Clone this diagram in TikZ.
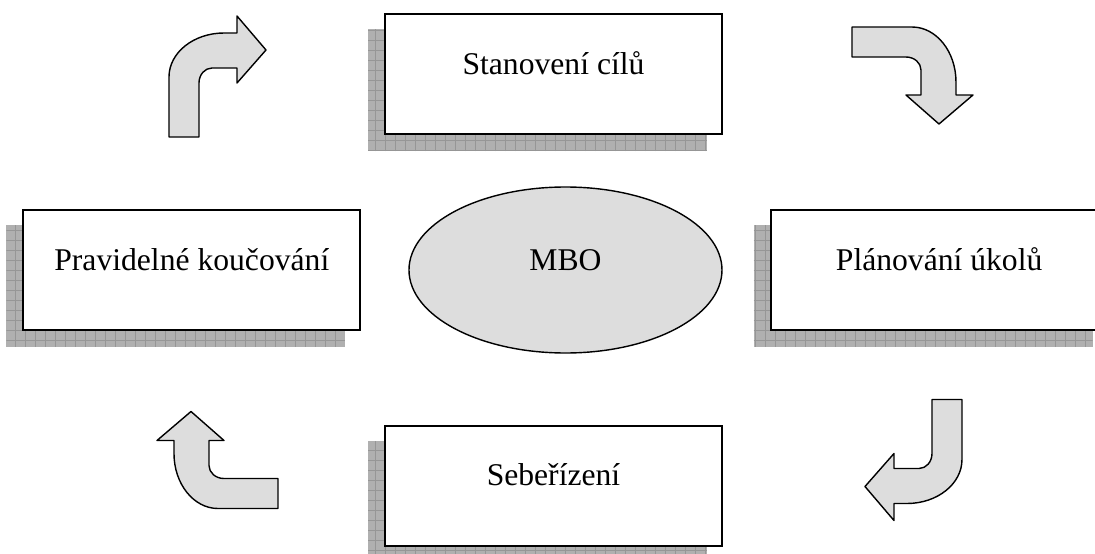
\documentclass[tikz,border=0pt]{standalone}
\usepackage{fontspec}
\setmainfont{Liberation Serif}
\usepackage{tikz}
\usetikzlibrary{positioning,shapes.geometric,backgrounds,calc}
\definecolor{arrowgrey}{HTML}{DDDDDD}
\definecolor{shadowgrey}{HTML}{B0B0B0}
\definecolor{shadowline}{HTML}{969696}
\tikzset{
  stepbox/.style={
    rectangle, draw=black, line width=1.1pt, fill=white,
    minimum width=6.74cm, minimum height=2.4cm,
    text height=0.5cm, text depth=0.5cm,
    font=\fontsize{18}{22}\selectfont
  },
  hubnode/.style={
    ellipse, draw=black, line width=0.8pt, fill=arrowgrey,
    minimum width=6.26cm, minimum height=3.32cm,
    text height=0.5cm, text depth=0.5cm,
    font=\fontsize{18}{22}\selectfont
  },
  gridshadow/.style={
    fill=shadowgrey,
    path picture={\draw[shadowline, line width=0.4pt, step=0.2cm]
      (path picture bounding box.south west) grid (path picture bounding box.north east);}
  },
  bendarrow/.pic={
    \draw[fill=arrowgrey, line width=0.8pt, line join=round]
      (-0.97,-1.21) -- (-0.97,-0.01)
      arc[start angle=180, end angle=90, x radius=1.1cm, y radius=0.88cm]
      -- (0.39,0.87) -- (0.39,1.21) -- (0.97,0.53) -- (0.39,-0.13)
      -- (0.39,0.17) -- (-0.11,0.17)
      arc[start angle=90, end angle=180, x radius=0.26cm, y radius=0.3cm]
      -- (-0.37,-1.21) -- cycle;
  }
}

\begin{document}
\begin{tikzpicture}
\coordinate (frameSW) at (-11.31,-5.68);
\coordinate (frameNE) at (10.59,5.4);
\useasboundingbox (frameSW) rectangle (frameNE);
\clip (frameSW) rectangle (frameNE);

\node[hubnode] (mbo) at (0,0) {MBO};
\node[stepbox, left=0.94cm of mbo] (coach) {Pravidelné koučování};
\node[stepbox, right=0.94cm of mbo] (plan) {Plánování úkolů};
\node[stepbox, above=1.02cm of mbo, xshift=-0.24cm] (goals) {Stanovení cílů};
\node[stepbox, below=1.42cm of mbo, xshift=-0.24cm] (selfmgmt) {Sebeřízení};

% hatched shadows behind the boxes
\begin{scope}[on background layer]
\clip (frameSW) rectangle (frameNE);
\foreach \n in {goals,coach,plan,selfmgmt}
  \path[gridshadow] ($(\n.south west)+(-0.32,-0.32)$) rectangle ($(\n.north east)+(-0.32,-0.32)$);
\end{scope}

% turning arrows round the cycle
\pic at (-6.96,3.87) {bendarrow};
\pic[rotate=-90] at (6.94,3.89) {bendarrow};
\pic[rotate=180] at (6.96,-3.80) {bendarrow};
\pic[rotate=90] at (-6.96,-3.80) {bendarrow};
\end{tikzpicture}
\end{document}
